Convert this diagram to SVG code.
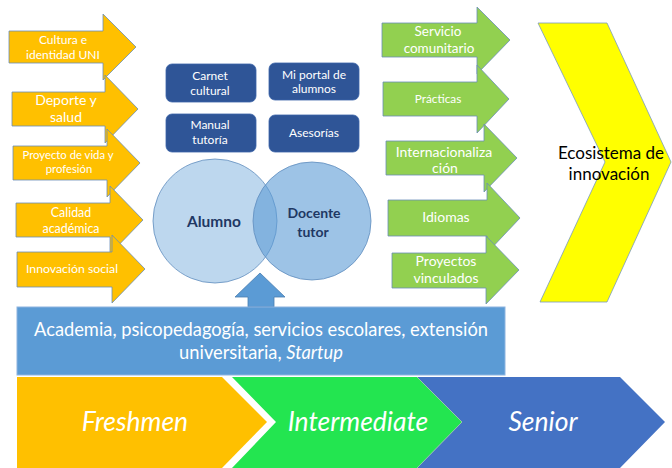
<svg xmlns="http://www.w3.org/2000/svg" width="672" height="468" viewBox="0 0 672 468">
<style>
  text { font-family: Lato, "Liberation Sans", sans-serif; text-anchor: middle; }
  .orange { fill: #FFC000; stroke: #6A8EB8; stroke-width: 0.8; }
  .green { fill: #92D050; stroke: #6A8EB8; stroke-width: 0.8; }
  .wt { fill: #FFFFFF; }
  .box { fill: #2F5597; stroke: #3A63A8; stroke-width: 0.8; }
  .bt { fill: #FFFFFF; font-size: 12px; }
  .ct { fill: #1F3864; font-weight: bold; }
  .stage { fill: #FFFFFF; font-size: 26.5px; font-style: italic; }
</style>
<rect width="672" height="468" fill="#FFFFFF"/>

<!-- Yellow chevron -->
<g id="ecosistema">
  <polygon points="538,23 607,23 671,162 607,302 540,302 605,162" fill="#FFFF00" stroke="#7A9BBF" stroke-width="0.8"/>
  <text x="611" y="159" font-size="17" fill="#000000">Ecosistema de</text>
  <text x="609" y="180" font-size="17" fill="#000000">innovación</text>
</g>

<!-- Left orange arrows -->
<g id="cultura">
  <polygon class="orange" points="9,31 103,31 103,14 136,47 103,80 103,63 9,63"/>
  <text class="wt" x="63" y="44" font-size="12">Cultura e</text>
  <text class="wt" x="63" y="59" font-size="12">identidad UNI</text>
</g>
<g id="deporte">
  <polygon class="orange" points="12,92 105,92 105,75 138,109 105,143 105,126 12,126"/>
  <text class="wt" x="66" y="105" font-size="14">Deporte y</text>
  <text class="wt" x="66" y="122" font-size="14">salud</text>
</g>
<g id="proyecto-vida">
  <polygon class="orange" points="13,146 107,146 107,129 140,163 107,197 107,180 13,180"/>
  <text class="wt" x="68" y="159" font-size="11.3">Proyecto de vida y</text>
  <text class="wt" x="69" y="173" font-size="11.3">profesión</text>
</g>
<g id="calidad">
  <polygon class="orange" points="16,203 110,203 110,186 143,220 110,254 110,237 16,237"/>
  <text class="wt" x="71" y="217" font-size="12.4">Calidad</text>
  <text class="wt" x="71" y="233" font-size="12.4">académica</text>
</g>
<g id="innovacion-social">
  <polygon class="orange" points="17,252 112,252 112,235 145,269 112,303 112,287 17,287"/>
  <text class="wt" x="72" y="273" font-size="12.3">Innovación social</text>
</g>

<!-- Right green arrows -->
<g id="servicio">
  <polygon class="green" points="382,23 477,23 477,7 510,40 477,74 477,57 382,57"/>
  <text class="wt" x="438" y="36" font-size="13.5">Servicio</text>
  <text class="wt" x="439" y="53" font-size="13.5">comunitario</text>
</g>
<g id="practicas">
  <polygon class="green" points="383,82 477,82 477,65 509,99 477,133 477,116 383,116"/>
  <text class="wt" x="438" y="103" font-size="11.8">Prácticas</text>
</g>
<g id="internacionalizacion">
  <polygon class="green" points="386,141 484,141 484,124 517,158 484,192 484,175 386,175"/>
  <text class="wt" x="444" y="157" font-size="14">Internacionaliza</text>
  <text class="wt" x="445" y="173" font-size="14">ción</text>
</g>
<g id="idiomas">
  <polygon class="green" points="388,200 487,200 487,183 520,218 487,253 487,236 388,236"/>
  <text class="wt" x="446" y="222" font-size="14">Idiomas</text>
</g>
<g id="proyectos-vinculados">
  <polygon class="green" points="392,253 486,253 486,236 519,270 486,304 486,288 392,288"/>
  <text class="wt" x="446" y="266" font-size="14">Proyectos</text>
  <text class="wt" x="446" y="283" font-size="14">vinculados</text>
</g>

<!-- Center boxes -->
<g id="carnet">
  <rect class="box" x="166" y="64" width="90" height="38" rx="6"/>
  <text class="bt" x="210" y="80">Carnet</text>
  <text class="bt" x="210" y="95">cultural</text>
</g>
<g id="portal">
  <rect class="box" x="269" y="63" width="90" height="37" rx="6"/>
  <text class="bt" x="314" y="79" font-size="11.3">Mi portal de</text>
  <text class="bt" x="314" y="93" font-size="11.3">alumnos</text>
</g>
<g id="manual">
  <rect class="box" x="166" y="114" width="90" height="38" rx="6"/>
  <text class="bt" x="210" y="129">Manual</text>
  <text class="bt" x="210" y="144">tutoría</text>
</g>
<g id="asesorias">
  <rect class="box" x="269" y="115" width="90" height="37" rx="6"/>
  <text class="bt" x="314" y="137">Asesorías</text>
</g>

<!-- Circles -->
<g id="alumno">
  <circle cx="215" cy="221" r="62" fill="#BDD7EE" stroke="#5F8DBE" stroke-width="0.8"/>
  <text class="ct" x="214" y="227" font-size="15.5">Alumno</text>
</g>
<g id="docente">
  <circle cx="312" cy="221" r="59" fill="#5B9BD5" fill-opacity="0.6" stroke="#5F8DBE" stroke-width="0.8"/>
  <text class="ct" x="314" y="218" font-size="14">Docente</text>
  <text class="ct" x="313" y="237" font-size="14">tutor</text>
</g>

<!-- Connector: up arrow -->
<g id="connectors">
  <polygon points="248,307 248,297 235,297 260,273 285,297 274,297 274,307" fill="#5B9BD5" stroke="#4A7DB0" stroke-width="0.8"/>
</g>

<!-- Blue base box -->
<g id="academia">
  <rect x="17" y="307" width="488" height="68" fill="#5B9BD5" stroke="#8DB4E0" stroke-width="1"/>
  <text class="wt" x="261" y="336" font-size="18.3">Academia, psicopedagogía, servicios escolares, extensión</text>
  <text class="wt" x="261" y="359" font-size="18.3">universitaria, <tspan font-style="italic">Startup</tspan></text>
</g>

<!-- Bottom chevrons -->
<g id="freshmen">
  <polygon points="17,377 222,377 267,422 222,468 17,468" fill="#FFC000"/>
  <text class="stage" x="135" y="431">Freshmen</text>
</g>
<g id="intermediate">
  <polygon points="232,377 417,377 462,422 417,468 232,468 276,422" fill="#23E550"/>
  <text class="stage" x="358" y="431">Intermediate</text>
</g>
<g id="senior">
  <polygon points="417,377 620,377 665,422 620,468 417,468 462,422" fill="#4472C4"/>
  <polyline points="417,377 462,422 417,468" fill="none" stroke="#9FC9A8" stroke-width="0.8"/>
  <text class="stage" x="543" y="431">Senior</text>
</g>
</svg>
